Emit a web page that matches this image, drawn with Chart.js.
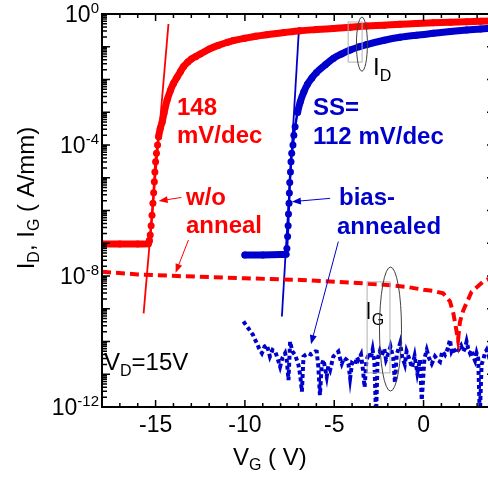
<!DOCTYPE html>
<html>
<head>
<meta charset="utf-8">
<script src="https://cdn.jsdelivr.net/npm/chart.js@4/dist/chart.umd.min.js"></script>
<style>
  html, body { margin: 0; padding: 0; background: #fff; overflow: hidden; width: 488px; height: 478px; }
  #wrap { position: relative; width: 500px; height: 478px; }
  canvas { display: block; }
</style>
</head>
<body>
<div id="wrap"><canvas id="chart" width="500" height="478"></canvas></div>
<script>
// Transfer characteristics at VD = 15 V: drain current ID and gate leakage IG (A/mm) vs gate voltage VG (V)

// ID, device without anneal
const vgAsGrown = [-18, -17, -16, -15.4, -15.35, -15.30, -15.25, -15.20, -15.15, -15.11, -15.07, -15.04, -15.00, -14.95,
  -14.89, -14.83, -14.74, -14.63, -14.53, -14.35, -14.16, -14.0, -13.8, -13.6, -13.43, -13.2, -13.0, -12.75, -12.5,
  -12.0, -11.5, -11.0, -10.65, -10.0, -9.4, -8.77, -7.8, -6.9, -6.0, -5.05, -4.1, -3.18, -2.2, -1.32, -0.4, 0.55,
  1.5, 2.41, 3.2, 4.0];
const idAsGrown = [9.5e-8, 9.5e-8, 9.5e-8, 9.7e-8, 1.2e-7, 1.8e-7, 3.4e-7, 7.2e-7, 1.66e-6, 3.5e-6, 7.6e-6, 1.5e-5,
  3.1e-5, 5.6e-5, 1.0e-4, 1.8e-4, 3.2e-4, 5.1e-4, 9.3e-4, 2.4e-3, 4.8e-3, 7.6e-3, 1.17e-2, 1.78e-2, 2.5e-2, 3.4e-2,
  4.2e-2, 5.0e-2, 6.0e-2, 8.5e-2, 0.11, 0.135, 0.155, 0.182, 0.209, 0.234, 0.272, 0.309, 0.335, 0.363, 0.394, 0.427,
  0.457, 0.49, 0.513, 0.537, 0.56, 0.582, 0.6, 0.617];

// ID, bias-annealed device
const vgAnnealed = [-10, -9, -8, -7.7, -7.65, -7.61, -7.58, -7.56, -7.53, -7.51, -7.49, -7.45, -7.42, -7.38, -7.31,
  -7.26, -7.19, -7.05, -6.9, -6.7, -6.5, -6.25, -6.0, -5.5, -5.05, -4.6, -4.11, -3.6, -3.18, -2.2, -1.32, -0.4, 0.55,
  1.5, 2.41, 3.2, 4.0];
const idAnnealed = [4.4e-8, 4.4e-8, 4.5e-8, 4.6e-8, 6.9e-8, 1.6e-7, 3.4e-7, 7.8e-7, 1.66e-6, 3.4e-6, 7.1e-6, 1.5e-5,
  3.1e-5, 5.6e-5, 1.0e-4, 2.0e-4, 3.6e-4, 1.0e-3, 2.1e-3, 4.2e-3, 7.1e-3, 1.12e-2, 1.62e-2, 2.8e-2, 4.4e-2, 6.0e-2,
  7.9e-2, 0.1, 0.117, 0.158, 0.195, 0.226, 0.257, 0.292, 0.324, 0.351, 0.376];

// IG, device without anneal
const vgGateAsGrown = [-18, -16, -13.8, -10, -6.85, -4, -2.2, -1, 0, 0.55, 1.1, 1.48, 1.67, 1.82, 1.93, 2.04, 2.23,
  2.69, 3.34, 4];
const igAsGrown = [1.35e-8, 1.12e-8, 1.0e-8, 8.5e-9, 7.6e-9, 6.3e-9, 5.4e-9, 4.7e-9, 3.8e-9, 3.5e-9, 2.95e-9, 1.66e-9,
  7.2e-10, 2.5e-10, 1.12e-10, 4.0e-10, 9.1e-10, 3.3e-9, 6.8e-9, 1.0e-8];

// IG, bias-annealed device
const vgGateAnnealed = [-10.08, -9.95, -9.8, -9.68, -9.55, -9.45, -9.33, -9.2, -9.05, -8.9, -8.77, -8.6, -8.45, -8.3,
  -8.15, -8.03, -7.9, -7.75, -7.65, -7.56, -7.47, -7.35, -7.19, -7.08, -7.0, -6.9, -6.81, -6.72, -6.58, -6.44, -6.3,
  -6.16, -6.05, -5.98, -5.89, -5.8, -5.7, -5.6, -5.5, -5.42, -5.33, -5.23, -5.12, -5.05, -4.9, -4.77, -4.67, -4.58,
  -4.45, -4.3, -4.2, -4.11, -4.0, -3.83, -3.74, -3.65, -3.5, -3.4, -3.3, -3.2, -3.05, -2.95, -2.85, -2.75, -2.66,
  -2.57, -2.45, -2.35, -2.2, -2.1, -1.95, -1.85, -1.7, -1.6, -1.5, -1.31, -1.2, -1.05, -0.95, -0.8, -0.65, -0.5,
  -0.35, -0.2, -0.1, 0.05, 0.18, 0.3, 0.46, 0.64, 0.78, 0.92, 1.05, 1.2, 1.35, 1.48, 1.57, 1.67, 1.8, 1.95, 2.1,
  2.23, 2.33, 2.41, 2.5, 2.6, 2.7, 2.78, 2.88, 2.97, 3.06, 3.15, 3.25, 3.34, 3.44, 3.53, 3.65, 3.8, 4.0];
const igAnnealed = [4.1e-10, 3.2e-10, 2.5e-10, 2.0e-10, 1.6e-10, 1.2e-10, 8.9e-11, 6.0e-11, 4.4e-11, 7.0e-11, 7.9e-11,
  3.5e-11, 5.5e-11, 4.9e-11, 2.8e-11, 1.7e-11, 3.2e-11, 4.4e-11, 2.5e-11, 6.6e-12, 1.0e-10, 5.0e-11, 3.9e-11, 2.6e-11,
  1.9e-11, 9e-12, 2.95e-12, 3.5e-11, 4.0e-11, 4.4e-11, 4.0e-11, 4.4e-11, 5.0e-11, 4.9e-11, 1.7e-11, 2.3e-12, 2.0e-11,
  2.75e-11, 1.4e-11, 8.5e-12, 1.8e-11, 1.35e-11, 2.4e-11, 3.5e-11, 4.2e-11, 4.9e-11, 3.0e-11, 2.1e-11, 3.2e-11,
  2.75e-11, 2.0e-11, 7.6e-12, 2.2e-11, 1.9e-11, 3.3e-11, 2.75e-11, 4.0e-11, 1.5e-11, 4e-12, 2.6e-11, 4.5e-11, 3.0e-11,
  5.6e-11, 2.5e-11, 5e-13, 3.0e-11, 5.0e-11, 3.6e-11, 6.0e-11, 2.8e-11, 4.5e-11, 7.0e-11, 3.2e-11, 5.5e-12, 4.0e-11,
  8.9e-11, 3.5e-11, 2.0e-11, 5.0e-11, 3.0e-11, 1.6e-11, 3.6e-11, 1.1e-11, 2.8e-11, 1.6e-12, 3.0e-11, 5.5e-11, 3.2e-11,
  2.1e-11, 3.5e-11, 2.8e-11, 2.4e-11, 5.0e-11, 3.9e-11, 6.0e-11, 1.12e-10, 5.0e-11, 6.3e-11, 4.4e-11, 5.5e-11,
  7.5e-11, 4.9e-11, 6.5e-11, 1.0e-10, 6.0e-11, 4.4e-11, 5.5e-11, 3.5e-11, 2.6e-11, 4.4e-11, 3.0e-11, 5e-13, 2.0e-11,
  2.75e-11, 4.5e-11, 5.5e-11, 3.5e-11, 6.0e-11, 4.5e-11];

// Subthreshold-slope fit lines (two end points each)
const vgFitAsGrown = [-14.28, -15.67];
const idFitAsGrown = [0.495, 7.2e-10];
const vgFitAnnealed = [-6.97, -7.93];
const idFitAnnealed = [0.39, 5.8e-10];

// Axis tick labels
const xTickLabels = [-15, -10, -5, 0];
const yTickExponents = [0, -4, -8, -12];

const FONT = '"Liberation Sans", Arial, Helvetica, sans-serif';
const RED = '#ff0000';
const BLUE = '#0000cc';

const pts = (xs, ys) => xs.map((x, i) => ({ x, y: ys[i] }));

// thick band where the sweep points overlap, thin connector where the points separate on the steep edge
const bandWidth = (c) => {
  const a = c.p0.parsed, b = c.p1.parsed;
  const slope = Math.abs(Math.log10(b.y) - Math.log10(a.y)) / Math.abs(b.x - a.x);
  return slope > 3 ? 2.5 : 7;
};

function sTxt(ctx, x, y, parts, color) {
  // parts: [text, size, baseline shift, weight]
  let cx = x;
  ctx.fillStyle = color || '#000';
  ctx.textAlign = 'left';
  ctx.textBaseline = 'alphabetic';
  for (const [t, size, dy, w] of parts) {
    ctx.font = `${w || 'normal'} ${size}px ${FONT}`;
    ctx.fillText(t, cx, y + (dy || 0));
    cx += ctx.measureText(t).width;
  }
  return cx - x;
}
function sWidth(ctx, parts) {
  let w = 0;
  for (const [t, size, , wt] of parts) {
    ctx.font = `${wt || 'normal'} ${size}px ${FONT}`;
    w += ctx.measureText(t).width;
  }
  return w;
}
function arrow(ctx, x0, y0, x1, y1, color) {
  const ang = Math.atan2(y1 - y0, x1 - x0);
  const L = 9, W = 3.5;
  ctx.strokeStyle = color; ctx.fillStyle = color; ctx.lineWidth = 1;
  ctx.beginPath();
  ctx.moveTo(x0, y0);
  ctx.lineTo(x1 - L * 0.8 * Math.cos(ang), y1 - L * 0.8 * Math.sin(ang));
  ctx.stroke();
  ctx.beginPath();
  ctx.moveTo(x1, y1);
  ctx.lineTo(x1 - L * Math.cos(ang) + W * Math.sin(ang), y1 - L * Math.sin(ang) - W * Math.cos(ang));
  ctx.lineTo(x1 - L * Math.cos(ang) - W * Math.sin(ang), y1 - L * Math.sin(ang) + W * Math.cos(ang));
  ctx.closePath();
  ctx.fill();
}

const axesPlugin = {
  id: 'axesFrame',
  afterDatasetsDraw(chart) {
    const { ctx, chartArea: a, scales: { x, y } } = chart;
    ctx.save();
    // inward ticks on all four sides
    ctx.strokeStyle = '#000';
    ctx.lineWidth = 1.5;
    ctx.beginPath();
    for (let v = Math.ceil(x.min); v <= x.max; v++) {
      const px = x.getPixelForValue(v);
      const len = v % 5 === 0 ? 7 : 4;
      ctx.moveTo(px, a.bottom); ctx.lineTo(px, a.bottom - len);
      ctx.moveTo(px, a.top); ctx.lineTo(px, a.top + len);
    }
    for (let e = -12; e <= 0; e++) {
      for (let k = 1; k <= 9; k++) {
        const val = k * Math.pow(10, e);
        if (val > 1.000001) break;
        const py = y.getPixelForValue(val);
        const len = k === 1 ? 8 : 5;
        ctx.moveTo(a.left, py); ctx.lineTo(a.left + len, py);
        ctx.moveTo(a.right, py); ctx.lineTo(a.right - len, py);
      }
    }
    ctx.stroke();
    ctx.lineWidth = 2;
    ctx.strokeRect(a.left, a.top, a.right - a.left, a.bottom - a.top);
    ctx.restore();
  },
  afterDraw(chart) {
    const { ctx, chartArea: a, scales: { x, y } } = chart;
    const P = (v, i) => [x.getPixelForValue(v), y.getPixelForValue(i)];
    ctx.save();

    // y tick labels 10^n
    for (const e of yTickExponents) {
      const py = y.getPixelForValue(Math.pow(10, e));
      const parts = [['10', 23, 0], [String(e), 15, -9]];
      const w = sWidth(ctx, parts);
      sTxt(ctx, a.left - 3 - w, py + 8, parts);
    }
    // x tick labels
    ctx.font = `23px ${FONT}`;
    ctx.textAlign = 'center';
    ctx.fillStyle = '#000';
    for (const v of xTickLabels) {
      ctx.fillText(String(v), x.getPixelForValue(v), 432);
    }
    // x axis title
    sTxt(ctx, 233, 465, [['V', 24, 0], ['G', 16, 5], [' ( V)', 24, 0]]);
    // y axis title (rotated)
    const yt = [['I', 24, 0], ['D', 16, 5], [', I', 24, 0], ['G', 16, 5], [' ( A/mm)', 24, 0]];
    const ytw = sWidth(ctx, yt);
    ctx.save();
    ctx.translate(34, 198);
    ctx.rotate(-Math.PI / 2);
    sTxt(ctx, -ytw / 2, 0, yt);
    ctx.restore();

    // curve labels
    sTxt(ctx, 177, 115, [['148', 24, 0, 'bold']], RED);
    sTxt(ctx, 177, 143, [['mV/dec', 24, 0, 'bold']], RED);
    sTxt(ctx, 313, 115, [['SS=', 24, 0, 'bold']], BLUE);
    sTxt(ctx, 313, 144, [['112 mV/dec', 24, 0, 'bold']], BLUE);
    sTxt(ctx, 186, 205, [['w/o', 24, 0, 'bold']], RED);
    sTxt(ctx, 186, 233, [['anneal', 24, 0, 'bold']], RED);
    sTxt(ctx, 339, 205, [['bias-', 24, 0, 'bold']], BLUE);
    sTxt(ctx, 337, 234, [['annealed', 24, 0, 'bold']], BLUE);
    sTxt(ctx, 373, 75, [['I', 24, 0], ['D', 16, 6]]);
    sTxt(ctx, 365, 319, [['I', 24, 0], ['G', 16, 6]]);
    sTxt(ctx, 104, 370, [['V', 24, 0], ['D', 16, 6], ['=15V', 24, 0]]);

    // arrows from labels to curves
    arrow(ctx, ...P(-13.56, 2.5e-6), ...P(-14.83, 1.95e-6), RED);
    arrow(ctx, ...P(-13.16, 1.26e-7), ...P(-13.88, 1.25e-8), RED);
    arrow(ctx, ...P(-5.23, 2.35e-6), ...P(-7.37, 1.86e-6), BLUE);
    arrow(ctx, ...P(-4.77, 1.12e-7), ...P(-6.3, 8.3e-11), BLUE);

    // grouping ellipses around the ID and IG curves
    ctx.lineWidth = 1;
    ctx.strokeStyle = '#b0b0b0';
    let [rx0, ry0] = P(-4.22, 0.57); let [rx1, ry1] = P(-3.44, 0.034);
    ctx.strokeRect(rx0, ry0, rx1 - rx0, ry1 - ry0);
    [rx0, ry0] = P(-3.16, 6.6e-9); [rx1, ry1] = P(-1.88, 1.1e-11);
    ctx.strokeRect(rx0, ry0, rx1 - rx0, ry1 - ry0);
    ctx.strokeStyle = '#404040';
    let [ex, ey] = P(-3.45, 0.12);
    ctx.beginPath(); ctx.ellipse(ex, ey, 5.5, 27, 0, 0, Math.PI * 2); ctx.stroke();
    [ex, ey] = P(-1.85, 2.4e-10);
    ctx.beginPath(); ctx.ellipse(ex, ey, 11, 62, 0, 0, Math.PI * 2); ctx.stroke();

    ctx.restore();
  }
};

new Chart(document.getElementById('chart'), {
  type: 'line',
  data: {
    datasets: [
      {
        label: 'ID w/o anneal',
        data: pts(vgAsGrown, idAsGrown),
        borderColor: RED, backgroundColor: RED,
        pointRadius: 3.5, pointBorderWidth: 0, pointBackgroundColor: RED,
        cubicInterpolationMode: 'monotone',
        segment: { borderWidth: bandWidth },
        borderWidth: 7, borderJoinStyle: 'round', borderCapStyle: 'round'
      },
      {
        label: 'ID bias-annealed',
        data: pts(vgAnnealed, idAnnealed),
        borderColor: BLUE, backgroundColor: BLUE,
        pointRadius: 3.5, pointBorderWidth: 0, pointBackgroundColor: BLUE,
        cubicInterpolationMode: 'monotone',
        segment: { borderWidth: bandWidth },
        borderWidth: 7, borderJoinStyle: 'round', borderCapStyle: 'round'
      },
      {
        label: 'IG w/o anneal',
        data: pts(vgGateAsGrown, igAsGrown),
        borderColor: RED, borderWidth: 4, borderDash: [9, 5], borderCapStyle: 'butt',
        pointRadius: 0, tension: 0
      },
      {
        label: 'IG bias-annealed',
        data: pts(vgGateAnnealed, igAnnealed),
        borderColor: BLUE, borderWidth: 4, borderDash: [4, 3], borderCapStyle: 'butt',
        pointRadius: 0, tension: 0
      },
      {
        label: 'SS fit w/o anneal',
        data: pts(vgFitAsGrown, idFitAsGrown),
        borderColor: RED, borderWidth: 1.8, pointRadius: 0
      },
      {
        label: 'SS fit bias-annealed',
        data: pts(vgFitAnnealed, idFitAnnealed),
        borderColor: BLUE, borderWidth: 1.8, pointRadius: 0
      }
    ]
  },
  options: {
    responsive: false,
    animation: false,
    devicePixelRatio: 1,
    layout: { padding: { left: 102, top: 14, right: 5, bottom: 71 } },
    plugins: { legend: { display: false }, tooltip: { enabled: false } },
    scales: {
      x: { type: 'linear', min: -18, max: 4, display: false },
      y: { type: 'logarithmic', min: 1e-12, max: 1, display: false }
    }
  },
  plugins: [axesPlugin]
});
</script>
</body>
</html>
